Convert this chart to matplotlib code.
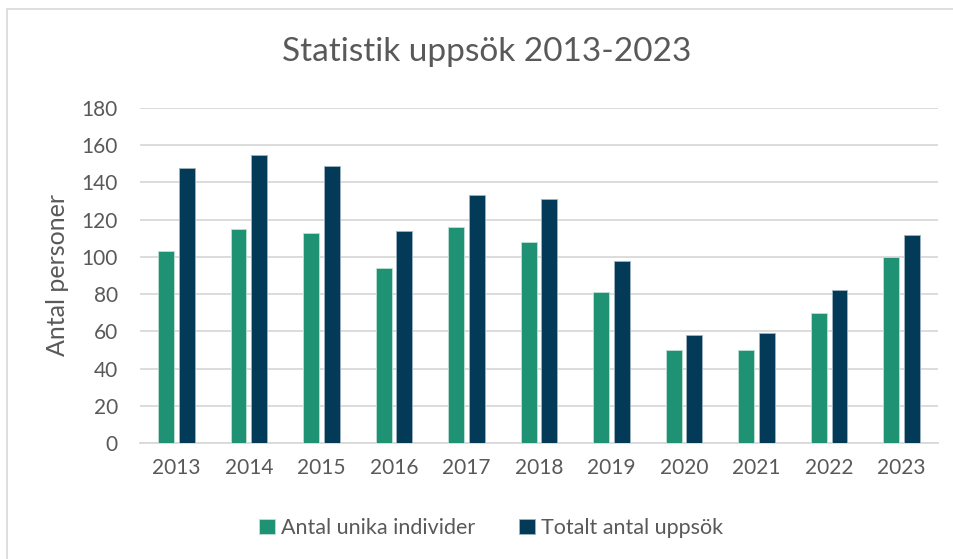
import numpy as np
import matplotlib
matplotlib.use("Agg")
import matplotlib.pyplot as plt
from matplotlib.patches import Rectangle

# Data
years = ["2013", "2014", "2015", "2016", "2017", "2018", "2019", "2020", "2021", "2022", "2023"]
unika = [103, 115, 113, 94, 116, 108, 81, 50, 50, 70, 100]
totalt = [148, 155, 149, 114, 133, 131, 98, 58, 59, 82, 112]

green = "#1F9274"
navy = "#033A57"
textcol = "#595959"

plt.rcParams['font.family'] = ['Lato', 'DejaVu Sans']

fig = plt.figure(figsize=(9.54, 5.59), dpi=100)
ax = fig.add_axes([140/954, 1-443/559, (938-140)/954, (443-108)/559])

# chart border (left/top visible only)
fig.patches.append(Rectangle((7/954, -0.05), 1.1, 1-9/559+0.05, transform=fig.transFigure,
                             fill=False, edgecolor="#D9D9D9", linewidth=1.2))

x = np.arange(len(years))
w = 0.22
off = 0.142
ax.bar(x - off, unika, w, color=green, edgecolor="#BFE0D6", linewidth=0.6, label="Antal unika individer", zorder=3)
ax.bar(x + off, totalt, w, color=navy, edgecolor="#9FB3C0", linewidth=0.6, label="Totalt antal uppsök", zorder=3)

ax.set_xlim(-0.5, len(years) - 0.5)
ax.set_ylim(0, 180)
ax.set_yticks(range(0, 181, 20))
ax.set_xticks(x)
ax.set_xticklabels(years)
ax.tick_params(axis='both', length=0, labelsize=15, colors=textcol)
ax.tick_params(axis='x', pad=11)
ax.tick_params(axis='y', pad=16)
ax.grid(axis='y', color="#D9D9D9", linewidth=1.3, zorder=0)
for s in ["top", "right", "left"]:
    ax.spines[s].set_visible(False)
ax.spines["bottom"].set_color("#D9D9D9")
ax.spines["bottom"].set_linewidth(1.3)

ax.set_ylabel("Antal personer", fontsize=18, color=textcol, labelpad=9)

fig.text(487/954, 1-52/559, "Statistik uppsök 2013-2023", ha="center", va="center",
         fontsize=24, color=textcol)

fig.legend(loc="center", bbox_to_anchor=(491/954, 1-528/559), ncol=2, frameon=False,
           fontsize=15.5, labelcolor=textcol, handlelength=0.75, handleheight=0.75,
           handletextpad=0.3, columnspacing=2.0)

fig.savefig("out.png", dpi=100)
